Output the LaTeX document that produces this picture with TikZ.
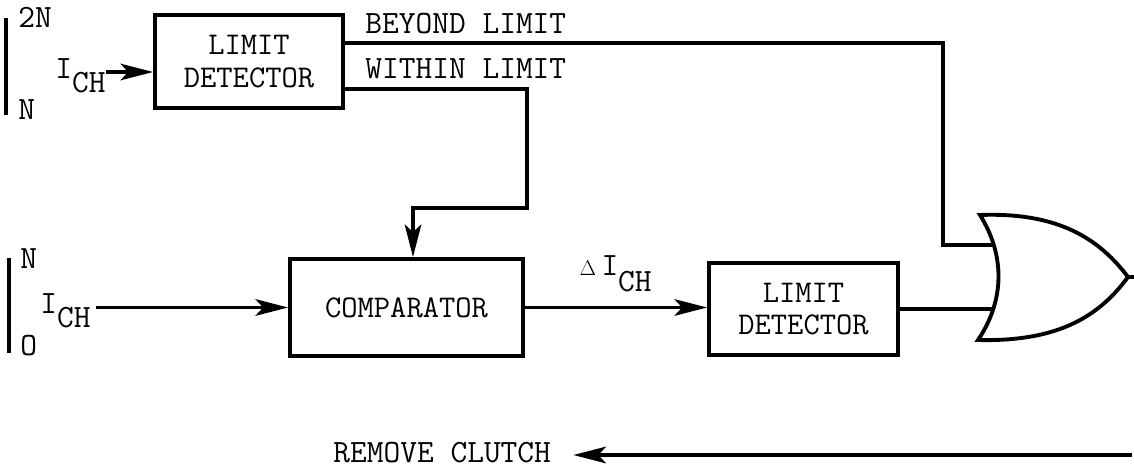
\documentclass[tikz,border=0pt]{standalone}
\usetikzlibrary{arrows.meta}

\begin{document}
\begin{tikzpicture}[
    x=0.02cm, y=-0.02cm,
    box/.style={
	draw,
	line width=2.2pt,
	align=center,
	inner sep=0pt,
	font=\ttfamily\fontsize{18}{18.5}\selectfont
    },
    lbl/.style={
	anchor=base west,
	inner sep=0pt,
	font=\ttfamily\fontsize{18.5}{18.5}\selectfont
    },
    wire/.style={line width=2.2pt},
    >={Stealth[length=6.5mm,width=3.3mm,inset=1.5mm]}
]
	\useasboundingbox (0,0) rectangle (1134,470);

	\node[box, minimum width=3.76cm, minimum height=1.86cm] (ld1) at (249,61.5) {LIMIT\\DETECTOR};
	\node[box, minimum width=4.66cm, minimum height=1.94cm] (comp) at (406.5,307.5) {COMPARATOR};
	\node[box, minimum width=3.78cm, minimum height=1.84cm] (ld2) at (803.5,309) {LIMIT\\DETECTOR};

	% Input ranges
	\draw[wire] (6,18) -- (6,115);
	\node[lbl] (hi2n) at (18,28) {2N};
	\node[lbl] (hin) at (18,119) {N};
	\node[lbl] (ich1) at (55,78) {I\raisebox{-8.5pt}{CH}};

	\draw[wire] (9,258) -- (9,353);
	\node[lbl] (lon) at (20,268) {N};
	\node[lbl] (loo) at (20,355) {O};
	\node[lbl] (ich2) at (40,313) {I\raisebox{-8pt}{CH}};

	\coordinate (in1) at (106,72);
	\coordinate (in2) at (96,307.5);
	\draw[wire,->] (in1) -- (in1 -| ld1.west);
	\draw[wire,->] (in2) -- (comp.west);

	% Limit detector outputs
	\node[lbl] (beyondlbl) at (365,33) {BEYOND LIMIT};
	\node[lbl] (withinlbl) at (365,78) {WITHIN LIMIT};

	\coordinate (beyond) at (943,43);
	\coordinate (within) at (527,89);
	\coordinate (jog) at (413,208);

	% OR gate
	\draw[wire] (980,215) .. controls (1060,212) and (1100,240) .. (1128,277)
	    .. controls (1100,315) and (1060,342) .. (978,340)
	    .. controls (1005,300) and (1005,255) .. cycle;
	\coordinate (orA) at (993,245);
	\coordinate (orB) at (994,308);
	\coordinate (orout) at (1128,277);
	\coordinate (orend) at (1134,277);

	\draw[wire] (ld1.east |- beyond) -- (beyond) |- (orA);
	\draw[wire,->] (ld1.east |- within) -- (within) |- (jog) -- (jog |- comp.north);

	% Comparator -> Limit detector -> gate
	\draw[wire,->] (comp.east) -- (comp.east -| ld2.west)
	    node[lbl, pos=0.29, yshift=0.64cm] (dich) {\scalebox{0.7}{$\Delta$}\,I\raisebox{-9pt}{CH}};
	\draw[wire] (ld2.east) -- (ld2.east -| orB);
	\draw[wire] (orout) -- (orend);

	% Remove clutch
	\node[lbl] (clutch) at (333,462) {REMOVE CLUTCH};
	\coordinate (clutchsrc) at (1132,455);
	\draw[wire,->] (clutchsrc) -- ([xshift=0.44cm]clutch.east |- clutchsrc);
\end{tikzpicture}
\end{document}
